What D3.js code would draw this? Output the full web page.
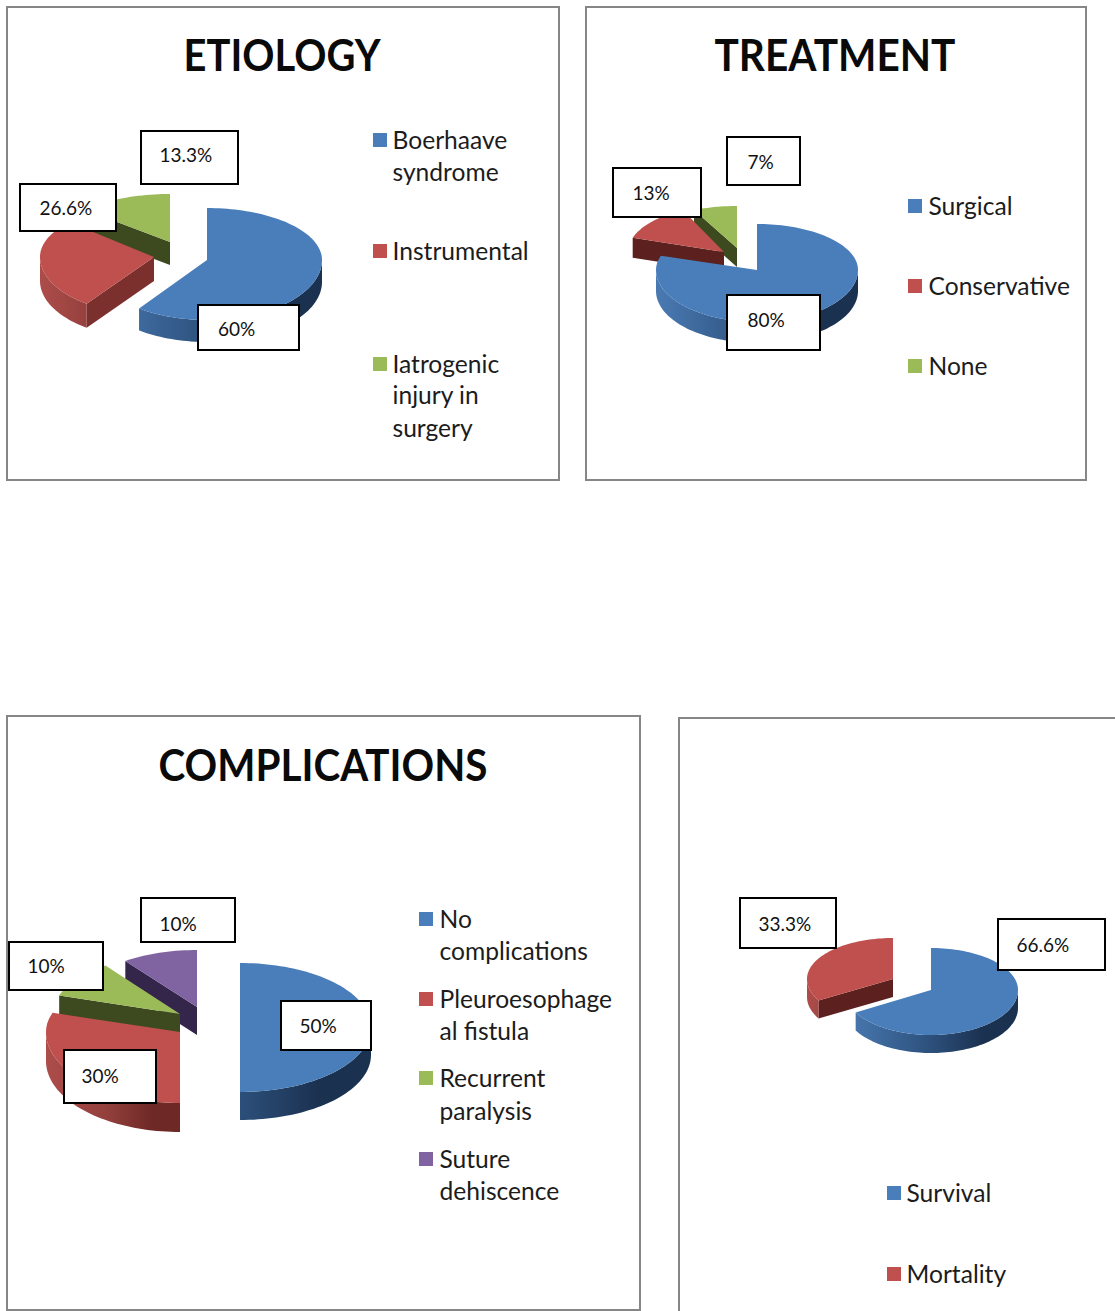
<!DOCTYPE html>
<html>
<head>
	<meta charset="utf-8">
	<script src="https://d3js.org/d3.v7.min.js"></script>
	<title>Etiology, treatment, complications, outcome</title>
	<style type="text/css">
		html, body { margin: 0; padding: 0; background: #fff; overflow: hidden; }
		text { font-family: Lato, "Open Sans", sans-serif; fill: #111; }
		.title { font-weight: 700; font-size: 43px; text-anchor: middle; fill: #0a0a0a; }
		.legend { font-size: 24.6px; dominant-baseline: central; fill: #1c1c1c; }
		.label { font-size: 19px; dominant-baseline: central; }
		.frame { fill: #fff; stroke: #868686; stroke-width: 2px; }
		.box { fill: #fff; stroke: #000; stroke-width: 2px; }
	</style>
</head>
<body>
<div id="chart"></div>
<script type="text/javascript">

// values
var etiologyValues = [60, 26.6, 13.3];
var etiologyNames = [["Boerhaave", "syndrome"], ["Instrumental"], ["Iatrogenic", "injury in", "surgery"]];

var treatmentValues = [80, 13, 7];
var treatmentNames = [["Surgical"], ["Conservative"], ["None"]];

var complicationValues = [50, 30, 10, 10];
var complicationNames = [["No", "complications"], ["Pleuroesophage", "al fistula"], ["Recurrent", "paralysis"], ["Suture", "dehiscence"]];

var outcomeValues = [66.6, 33.3];
var outcomeNames = [["Survival"], ["Mortality"]];

var topColor = d3.scaleOrdinal().domain(d3.range(4)).range(["#4a7ebb", "#bf504d", "#9bbb59", "#8064a2"]);
var wallColor = d3.scaleOrdinal().domain(d3.range(4)).range(["#1d3550", "#7c302e", "#3d491e", "#33264a"]);
var rimStops = [
	["#4a7ab3", "#2f5582", "#1b3150"],
	["#ad4d4a", "#93403d", "#6e2825"],
	["#7f9a45", "#55682c", "#3d491e"],
	["#6a5088", "#4a3763", "#33264a"]
];

var svg = d3.select("#chart").append("svg")
	.attr("width", 1115)
	.attr("height", 1311)
	.style("display", "block");
var defs = svg.append("defs");

// slice geometry is per slice: the exploded pieces are not quite the same ellipse
var panels = [
	{
		id: "etiology", title: "ETIOLOGY", titleX: 282, titleY: 71, titleW: 197,
		frame: [7, 7, 552, 473],
		values: etiologyValues, names: etiologyNames,
		rx: [115, 114, 115], ryTop: [52, 52, 48], ryBot: [60, 58, 58], depth: [22, 24, 23], redWall: "#7c302e",
		apex: [[207, 260], [154, 257], [170, 242]],
		boxes: [[198, 305, 101, 45, 218, 328], [20, 184, 96, 47, 39.5, 207], [141, 131, 97, 53, 159.5, 154]],
		legendX: 373, legendText: 392.5, legendY: [[141, 173], [252], [365, 396, 429]]
	},
	{
		id: "treatment", title: "TREATMENT", titleX: 835, titleY: 71, titleW: 241,
		frame: [586, 7, 500, 473],
		values: treatmentValues, names: treatmentNames,
		rx: [101, 96, 101], ryTop: [46, 46, 42], ryBot: [52, 50, 50], depth: [21, 20, 19], redWall: "#5c211e",
		apex: [[757, 270], [724, 252], [737, 248]],
		boxes: [[727, 295, 93, 55, 747.5, 319], [613, 168, 88, 49, 632.5, 192], [727, 137, 73, 48, 747.5, 161]],
		legendX: 908, legendText: 928.5, legendY: [[207], [287], [367]]
	},
	{
		id: "complications", title: "COMPLICATIONS", titleX: 323, titleY: 781, titleW: 329,
		frame: [7, 716, 633, 594],
		values: complicationValues, names: complicationNames,
		rx: [131, 134, 127, 122], ryTop: [64, 62, 60, 57], ryBot: [65, 71, 68, 68], depth: [28, 29, 26, 28], redWall: "#7c302e",
		apex: [[240, 1027], [180, 1032], [180, 1014], [197, 1007]],
		boxes: [[281, 1001, 90, 49, 299.5, 1025], [64, 1050, 92, 53, 81.5, 1075], [9, 942, 94, 48, 27.5, 965], [141, 898, 94, 44, 159.5, 923]],
		legendX: 419, legendText: 439.5, legendY: [[920, 952], [1000, 1032], [1079, 1112], [1160, 1192]]
	},
	{
		id: "outcome", title: "",
		frame: [679, 718, 500, 620],
		values: outcomeValues, names: outcomeNames,
		rx: [87, 86], ryTop: [42, 41], ryBot: [45, 43], depth: [18, 18], redWall: "#5c211e",
		apex: [[931, 990], [893, 979]],
		boxes: [[998, 919, 107, 51, 1016.5, 944], [740, 898, 96, 50, 758.5, 923]],
		legendX: 887, legendText: 906.5, legendY: [[1194], [1275]]
	}
];

var pie = d3.pie().sort(null);
var line = d3.line();
var step = Math.PI / 90;

panels.forEach(function(p) {
	var g = svg.append("g").attr("class", p.id);

	g.append("rect").attr("class", "frame")
		.attr("x", p.frame[0]).attr("y", p.frame[1])
		.attr("width", p.frame[2]).attr("height", p.frame[3]);

	if (p.title) {
		g.append("text").attr("class", "title")
			.attr("x", p.titleX).attr("y", p.titleY)
			.attr("textLength", p.titleW).attr("lengthAdjust", "spacingAndGlyphs")
			.text(p.title);
	}

	var arcs = pie(p.values);

	function point(i, a) {
		var c = Math.cos(a);
		return [p.apex[i][0] + Math.sin(a) * p.rx[i],
			p.apex[i][1] - c * (c > 0 ? p.ryTop[i] : p.ryBot[i])];
	}
	function arcPoints(i, a0, a1) {
		var pts = d3.range(a0, a1, step).map(function(a) { return point(i, a); });
		pts.push(point(i, a1));
		return pts;
	}

	// back slices first, the big one goes on top
	d3.range(arcs.length - 1, -1, -1).forEach(function(i) {
		var d = arcs[i], apex = p.apex[i];
		function down(q) { return [q[0], q[1] + p.depth[i]]; }

		var grad = defs.append("linearGradient")
			.attr("id", p.id + "-rim-" + i)
			.attr("gradientUnits", "userSpaceOnUse")
			.attr("x1", apex[0] - p.rx[i]).attr("x2", i === 0 ? apex[0] + p.rx[i] : apex[0])
			.attr("y1", 0).attr("y2", 0);
		grad.selectAll("stop").data(rimStops[i]).enter().append("stop")
			.attr("offset", function(c, k) { return [0, 0.45, 0.8][k]; })
			.attr("stop-color", function(c) { return c; });

		var wall = i === 1 ? p.redWall : wallColor(i);

		// radial cut faces that look toward the viewer
		if (Math.sin(d.startAngle) < -0.01) {
			var s = point(i, d.startAngle);
			g.append("path").attr("fill", wall)
				.attr("d", line([apex, s, down(s), down(apex)]) + "Z");
		}
		if (Math.sin(d.endAngle) > 0.01) {
			var e = point(i, d.endAngle);
			g.append("path").attr("fill", wall)
				.attr("d", line([apex, e, down(e), down(apex)]) + "Z");
		}

		// outer rim, only the front half shows
		var r0 = Math.max(d.startAngle, Math.PI / 2), r1 = Math.min(d.endAngle, Math.PI * 1.5);
		if (r1 > r0) {
			var upper = arcPoints(i, r0, r1);
			g.append("path").attr("fill", "url(#" + p.id + "-rim-" + i + ")")
				.attr("d", line(upper.concat(upper.map(down).reverse())) + "Z");
		}

		g.append("path").attr("fill", topColor(i))
			.attr("d", line([apex].concat(arcPoints(i, d.startAngle, d.endAngle))) + "Z");
	});

	// data labels
	p.values.forEach(function(v, i) {
		var b = p.boxes[i];
		g.append("rect").attr("class", "box")
			.attr("x", b[0]).attr("y", b[1]).attr("width", b[2]).attr("height", b[3]);
		g.append("text").attr("class", "label")
			.attr("x", b[4]).attr("y", b[5])
			.text(v + "%");
	});

	// legend
	p.names.forEach(function(lines, i) {
		g.append("rect").attr("fill", topColor(i))
			.attr("x", p.legendX).attr("y", p.legendY[i][0] - 8)
			.attr("width", 14).attr("height", 14);
		lines.forEach(function(t, k) {
			g.append("text").attr("class", "legend")
				.attr("x", p.legendText).attr("y", p.legendY[i][k] - 1.5).text(t);
		});
	});
});

</script>
</body>
</html>
